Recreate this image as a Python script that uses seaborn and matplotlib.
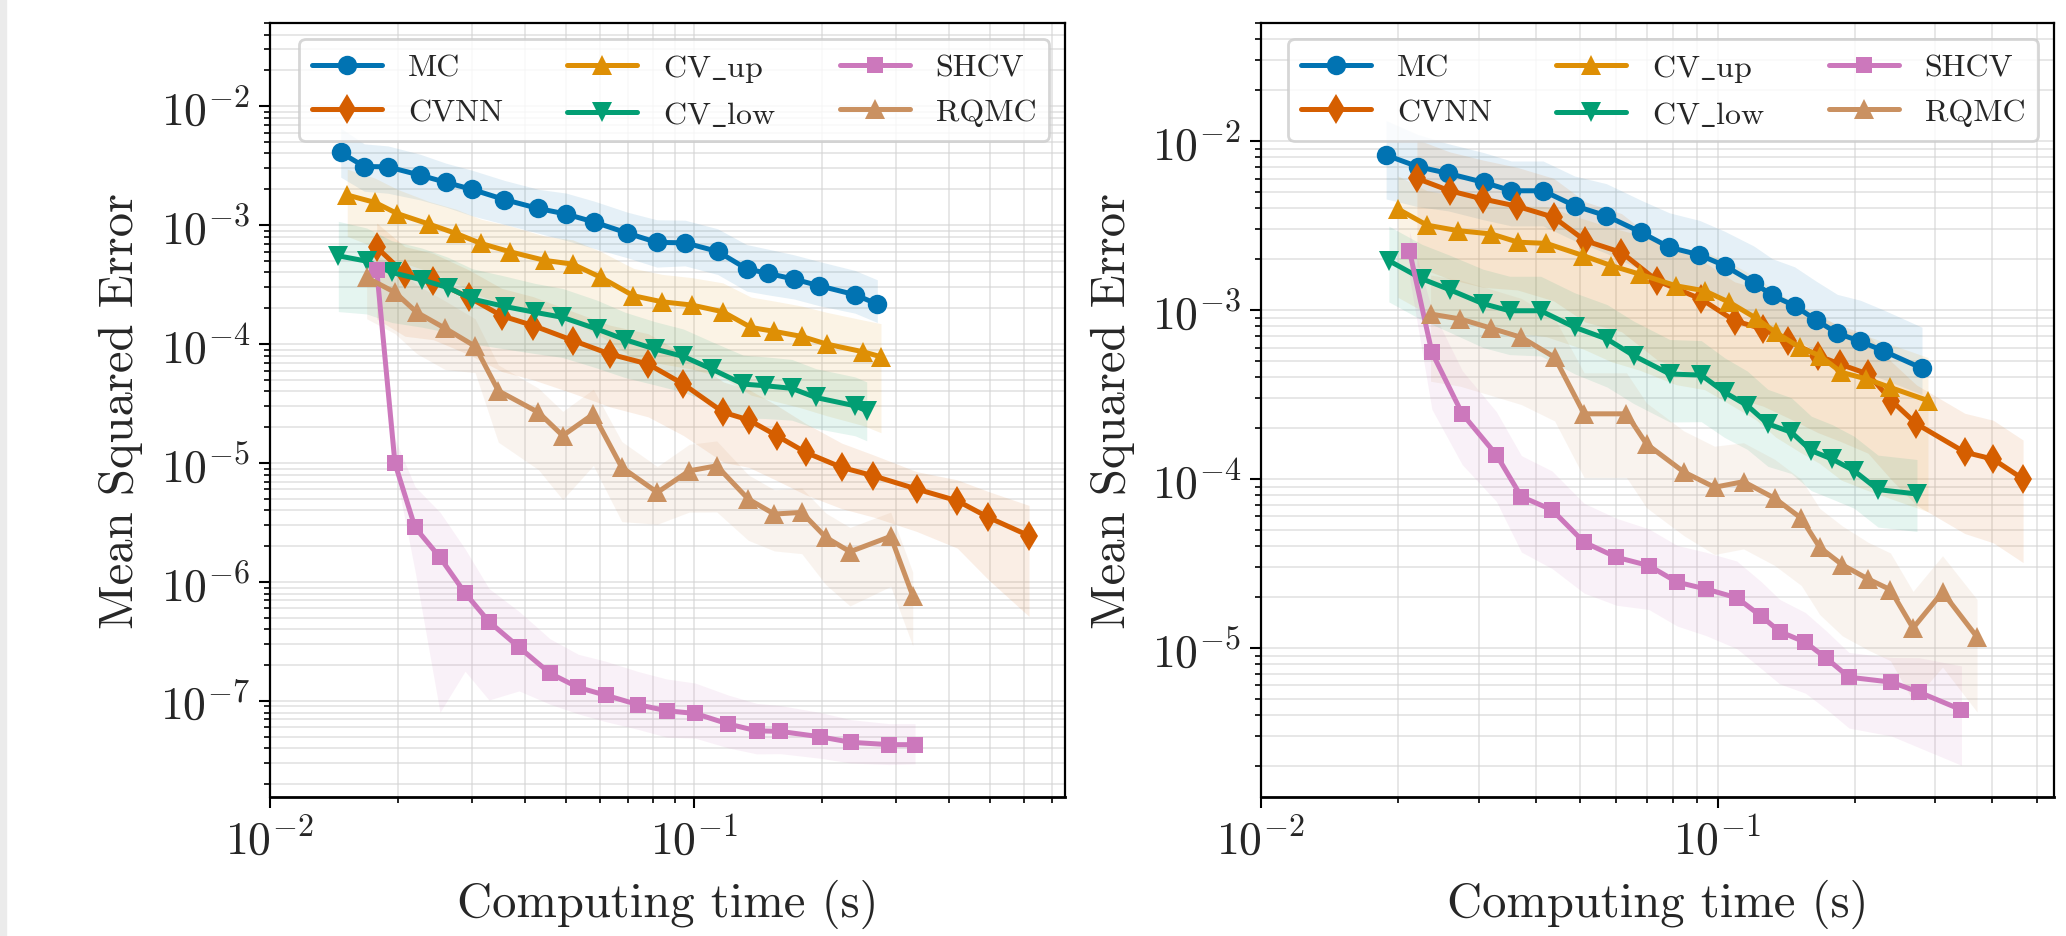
import numpy as np
import matplotlib
matplotlib.use("Agg")
import matplotlib.pyplot as plt
import seaborn as sns
from matplotlib.patches import Rectangle

# ---------------- left panel (a) ----------------
t_mc_a = [0.01468, 0.01668, 0.01896, 0.02259, 0.02597, 0.02990, 0.03570, 0.04294, 0.04989, 0.05820,
          0.06963, 0.08166, 0.09524, 0.1137, 0.1331, 0.1494, 0.1721, 0.1975, 0.2397, 0.2706]
mse_mc_a = [4.08e-3, 3.11e-3, 3.09e-3, 2.63e-3, 2.29e-3, 2.00e-3, 1.64e-3, 1.38e-3, 1.24e-3, 1.06e-3,
            8.57e-4, 7.16e-4, 7.10e-4, 6.01e-4, 4.29e-4, 3.93e-4, 3.52e-4, 3.09e-4, 2.60e-4, 2.17e-4]
hi_mc_a = [1.6, 1.55, 1.5, 1.5, 1.45, 1.45, 1.45, 1.45, 1.5, 1.5, 1.5, 1.55, 1.55, 1.55, 1.6, 1.6, 1.6, 1.6, 1.6, 1.6]
lo_mc_a = [0.62, 0.62, 0.6, 0.62, 0.62, 0.6, 0.62, 0.62, 0.6, 0.6, 0.62, 0.62, 0.64, 0.64, 0.65, 0.66, 0.68, 0.68, 0.7, 0.7]

t_cvnn_a = [0.01785, 0.02081, 0.02428, 0.02946, 0.03519, 0.04178, 0.05192, 0.06337, 0.07800, 0.09436,
            0.1173, 0.1348, 0.1567, 0.1834, 0.2230, 0.2648, 0.3351, 0.4178, 0.4943, 0.6167]
mse_cvnn_a = [6.50e-4, 3.88e-4, 3.40e-4, 2.47e-4, 1.73e-4, 1.43e-4, 1.07e-4, 8.24e-5, 6.79e-5, 4.61e-5,
              2.67e-5, 2.30e-5, 1.70e-5, 1.23e-5, 9.20e-6, 7.82e-6, 6.05e-6, 4.82e-6, 3.50e-6, 2.45e-6]
hi_cvnn_a = [1.6, 1.7, 1.7, 1.7, 1.7, 1.75, 1.75, 1.75, 1.8, 1.8, 1.8, 1.8, 1.8, 1.75, 1.6, 1.5, 1.4, 1.5, 1.65, 1.8]
lo_cvnn_a = [0.25, 0.3, 0.32, 0.33, 0.34, 0.35, 0.36, 0.36, 0.36, 0.37, 0.38, 0.4, 0.42, 0.44, 0.45, 0.45, 0.44, 0.4, 0.3, 0.21]

t_cvup_a = [0.01521, 0.01769, 0.01996, 0.02371, 0.02746, 0.03141, 0.03681, 0.04452, 0.05175, 0.06036,
            0.07194, 0.08392, 0.09876, 0.1169, 0.1363, 0.1544, 0.1795, 0.2056, 0.2508, 0.2761]
mse_cvup_a = [1.79e-3, 1.55e-3, 1.25e-3, 1.02e-3, 8.51e-4, 7.02e-4, 5.97e-4, 5.05e-4, 4.70e-4, 3.63e-4,
              2.55e-4, 2.27e-4, 2.13e-4, 1.87e-4, 1.38e-4, 1.28e-4, 1.16e-4, 1.00e-4, 8.61e-5, 7.82e-5]
hi_cvup_a = [1.65, 1.6, 1.6, 1.55, 1.6, 1.6, 1.65, 1.6, 1.6, 1.65, 1.7, 1.7, 1.7, 1.75, 1.8, 1.8, 1.8, 1.85, 1.85, 1.9]
lo_cvup_a = [0.45, 0.42, 0.4, 0.4, 0.38, 0.36, 0.35, 0.34, 0.33, 0.32, 0.3, 0.3, 0.29, 0.28, 0.27, 0.26, 0.25, 0.25, 0.24, 0.23]

t_cvlow_a = [0.01449, 0.01690, 0.01936, 0.02280, 0.02624, 0.02999, 0.03582, 0.04217, 0.04892, 0.05896,
             0.06877, 0.08091, 0.09436, 0.1101, 0.1307, 0.1471, 0.1700, 0.1936, 0.2397, 0.2555]
mse_cvlow_a = [5.52e-4, 4.98e-4, 4.00e-4, 3.47e-4, 2.99e-4, 2.39e-4, 2.07e-4, 1.85e-4, 1.68e-4, 1.34e-4,
               1.09e-4, 9.08e-5, 7.88e-5, 6.17e-5, 4.61e-5, 4.47e-5, 4.25e-5, 3.56e-5, 3.03e-5, 2.75e-5]
hi_cvlow_a = [1.95, 1.9, 1.85, 1.85, 1.8, 1.8, 1.8, 1.75, 1.75, 1.75, 1.7, 1.7, 1.7, 1.7, 1.75, 1.75, 1.75, 1.75, 1.75, 1.75]
lo_cvlow_a = [0.34, 0.36, 0.38, 0.4, 0.42, 0.42, 0.44, 0.45, 0.46, 0.47, 0.48, 0.5, 0.5, 0.52, 0.52, 0.53, 0.54, 0.55, 0.56, 0.56]

t_shcv_a = [0.01785, 0.01971, 0.02198, 0.02517, 0.02884, 0.03285, 0.03867, 0.04575, 0.05335, 0.06188,
            0.07390, 0.08622, 0.1006, 0.1205, 0.1406, 0.1595, 0.1983, 0.2343, 0.2888, 0.3321]
mse_shcv_a = [4.21e-4, 9.94e-6, 2.88e-6, 1.61e-6, 8.09e-7, 4.64e-7, 2.83e-7, 1.71e-7, 1.30e-7, 1.12e-7,
              9.31e-8, 8.28e-8, 7.87e-8, 6.41e-8, 5.62e-8, 5.56e-8, 5.01e-8, 4.50e-8, 4.30e-8, 4.30e-8]
hi_shcv_a = [1.15, 1.6, 2.2, 2.4, 2.35, 1.9, 2.0, 1.95, 1.9, 1.93, 1.9, 1.85, 1.8, 1.75, 1.7, 1.65, 1.6, 1.55, 1.5, 1.5]
lo_shcv_a = [0.85, 0.9, 0.43, 0.05, 0.22, 0.22, 0.43, 0.55, 0.6, 0.6, 0.62, 0.6, 0.62, 0.63, 0.64, 0.65, 0.66, 0.67, 0.68, 0.69]

t_rqmc_a = [0.01690, 0.01971, 0.02218, 0.02586, 0.03045, 0.03455, 0.04294, 0.04902, 0.05788, 0.06755,
            0.08193, 0.09748, 0.1131, 0.1343, 0.1546, 0.1795, 0.2048, 0.2333, 0.2910, 0.3280]
mse_rqmc_a = [3.63e-4, 2.72e-4, 1.85e-4, 1.36e-4, 9.60e-5, 4.05e-5, 2.67e-5, 1.70e-5, 2.58e-5, 9.20e-6,
              5.67e-6, 8.61e-6, 9.48e-6, 4.98e-6, 3.73e-6, 3.85e-6, 2.37e-6, 1.80e-6, 2.42e-6, 7.67e-7]
hi_rqmc_a = [1.7, 1.7, 1.7, 1.7, 1.7, 1.65, 1.6, 1.6, 1.62, 1.65, 1.65, 1.67, 1.62, 1.6, 1.6, 1.6, 1.6, 1.6, 1.6, 1.58]
lo_rqmc_a = [0.45, 0.45, 0.45, 0.45, 0.6, 0.37, 0.33, 0.29, 0.37, 0.35, 0.54, 0.45, 0.41, 0.45, 0.49, 0.45, 0.4, 0.35, 0.38, 0.38]

# ---------------- right panel (b) ----------------
t_mc_b = [0.01879, 0.02206, 0.02567, 0.03073, 0.03533, 0.04148, 0.04865, 0.05709, 0.06803, 0.07846,
          0.09130, 0.1036, 0.1201, 0.1318, 0.1475, 0.1640, 0.1830, 0.2055, 0.2304, 0.2805]
mse_mc_b = [8.26e-3, 7.05e-3, 6.44e-3, 5.70e-3, 5.08e-3, 5.08e-3, 4.14e-3, 3.61e-3, 2.88e-3, 2.35e-3,
            2.12e-3, 1.83e-3, 1.45e-3, 1.22e-3, 1.06e-3, 8.76e-4, 7.28e-4, 6.53e-4, 5.74e-4, 4.52e-4]
hi_mc_b = [1.6, 1.55, 1.5, 1.5, 1.5, 1.5, 1.5, 1.55, 1.55, 1.6, 1.6, 1.6, 1.65, 1.65, 1.7, 1.7, 1.7, 1.75, 1.75, 1.75]
lo_mc_b = [0.55, 0.58, 0.6, 0.6, 0.62, 0.62, 0.62, 0.6, 0.6, 0.6, 0.62, 0.62, 0.62, 0.64, 0.64, 0.65, 0.66, 0.66, 0.68, 0.7]

t_cvnn_b = [0.02195, 0.02588, 0.03064, 0.03642, 0.04375, 0.05135, 0.06160, 0.07376, 0.09211, 0.1090,
            0.1257, 0.1426, 0.1660, 0.1851, 0.2136, 0.2404, 0.2727, 0.3481, 0.4016, 0.4671]
mse_cvnn_b = [6.01e-3, 5.08e-3, 4.54e-3, 4.11e-3, 3.54e-3, 2.57e-3, 2.19e-3, 1.49e-3, 1.16e-3, 8.64e-4,
              7.72e-4, 6.58e-4, 5.37e-4, 4.79e-4, 4.18e-4, 2.91e-4, 2.12e-4, 1.44e-4, 1.31e-4, 1.00e-4]
hi_cvnn_b = [1.7, 1.7, 1.7, 1.7, 1.7, 1.7, 1.7, 1.7, 1.7, 1.7, 1.7, 1.7, 1.7, 1.7, 1.7, 1.7, 1.7, 1.7, 1.7, 1.7]
lo_cvnn_b = [0.3, 0.3, 0.3, 0.32, 0.32, 0.33, 0.34, 0.34, 0.34, 0.35, 0.35, 0.35, 0.35, 0.35, 0.34, 0.34, 0.33, 0.33, 0.32, 0.32]

t_cvup_b = [0.01995, 0.02309, 0.02700, 0.03194, 0.03656, 0.04217, 0.05076, 0.05855, 0.06755, 0.08117,
            0.09365, 0.1062, 0.1216, 0.1340, 0.1513, 0.1674, 0.1867, 0.2119, 0.2383, 0.2891]
mse_cvup_b = [3.96e-3, 3.18e-3, 2.95e-3, 2.82e-3, 2.52e-3, 2.48e-3, 2.10e-3, 1.83e-3, 1.63e-3, 1.39e-3,
              1.30e-3, 1.11e-3, 8.93e-4, 7.38e-4, 6.02e-4, 5.37e-4, 4.28e-4, 3.91e-4, 3.49e-4, 2.91e-4]
hi_cvup_b = [1.57, 1.6, 1.6, 1.62, 1.65, 1.65, 1.65, 1.68, 1.7, 1.7, 1.7, 1.72, 1.75, 1.75, 1.75, 1.78, 1.8, 1.8, 1.8, 1.8]
lo_cvup_b = [0.3, 0.3, 0.3, 0.29, 0.29, 0.28, 0.28, 0.27, 0.27, 0.26, 0.26, 0.25, 0.25, 0.24, 0.24, 0.23, 0.23, 0.22, 0.22, 0.22]

t_cvlow_b = [0.01905, 0.02251, 0.02588, 0.03064, 0.03504, 0.04098, 0.04865, 0.05728, 0.06553, 0.07859,
             0.09211, 0.1036, 0.1162, 0.1289, 0.1451, 0.1605, 0.1784, 0.1990, 0.2247, 0.2735]
mse_cvlow_b = [1.96e-3, 1.53e-3, 1.32e-3, 1.09e-3, 9.90e-4, 9.90e-4, 7.90e-4, 6.73e-4, 5.37e-4, 4.18e-4,
               4.12e-4, 3.26e-4, 2.72e-4, 2.12e-4, 1.89e-4, 1.47e-4, 1.31e-4, 1.12e-4, 8.65e-5, 8.15e-5]
hi_cvlow_b = [1.6, 1.6, 1.6, 1.6, 1.6, 1.6, 1.6, 1.6, 1.6, 1.6, 1.6, 1.6, 1.6, 1.6, 1.6, 1.6, 1.6, 1.6, 1.6, 1.6]
lo_cvlow_b = [0.57, 0.57, 0.56, 0.55, 0.55, 0.54, 0.53, 0.52, 0.52, 0.52, 0.53, 0.54, 0.55, 0.56, 0.57, 0.58, 0.58, 0.6, 0.6, 0.6]

t_shcv_b = [0.02114, 0.02367, 0.02759, 0.03277, 0.03717, 0.04339, 0.05101, 0.06006, 0.07069, 0.08157,
            0.09445, 0.1102, 0.1247, 0.1368, 0.1557, 0.1731, 0.1941, 0.2404, 0.2764, 0.3423]
mse_shcv_b = [2.24e-3, 5.62e-4, 2.43e-4, 1.39e-4, 7.86e-5, 6.56e-5, 4.22e-5, 3.44e-5, 3.07e-5, 2.45e-5,
              2.23e-5, 1.98e-5, 1.54e-5, 1.25e-5, 1.08e-5, 8.69e-6, 6.71e-6, 6.27e-6, 5.47e-6, 4.30e-6]
hi_shcv_b = [1.3, 1.8, 1.8, 1.8, 1.75, 1.7, 1.7, 1.7, 1.65, 1.65, 1.65, 1.65, 1.6, 1.55, 1.5, 1.45, 1.4, 1.4, 1.6, 1.82]
lo_shcv_b = [0.7, 0.46, 0.5, 0.53, 0.47, 0.45, 0.5, 0.52, 0.55, 0.55, 0.53, 0.5, 0.49, 0.49, 0.5, 0.5, 0.5, 0.48, 0.47, 0.47]

t_rqmc_b = [0.02351, 0.02731, 0.03194, 0.03717, 0.04396, 0.05101, 0.06316, 0.06989, 0.08436, 0.09849,
            0.1140, 0.1334, 0.1526, 0.1674, 0.1877, 0.2136, 0.2392, 0.2681, 0.3111, 0.3703]
mse_rqmc_b = [9.47e-4, 8.85e-4, 7.80e-4, 6.89e-4, 5.25e-4, 2.43e-4, 2.43e-4, 1.61e-4, 1.10e-4, 8.93e-5,
              9.64e-5, 7.69e-5, 5.85e-5, 3.94e-5, 3.10e-5, 2.56e-5, 2.21e-5, 1.31e-5, 2.14e-5, 1.16e-5]
hi_rqmc_b = [1.7, 1.7, 1.7, 1.7, 1.7, 1.75, 1.75, 1.75, 1.75, 1.75, 1.7, 1.7, 1.7, 1.7, 1.7, 1.65, 1.65, 1.65, 1.64, 1.67]
lo_rqmc_b = [0.4, 0.4, 0.4, 0.4, 0.42, 0.42, 0.42, 0.42, 0.42, 0.4, 0.4, 0.4, 0.4, 0.4, 0.38, 0.38, 0.38, 0.37, 0.36, 0.36]

names = ["MC", "CVNN", "CV_up", "CV_low", "SHCV", "RQMC"]
# cmr10 has no underscore glyph, so the legend text uses mathtext for it
legend_text = {"MC": "MC", "CVNN": "CVNN", "CV_up": r"CV$\_$up", "CV_low": r"CV$\_$low",
               "SHCV": "SHCV", "RQMC": "RQMC"}

cb = sns.color_palette("colorblind")
colors = {"MC": cb[0], "CVNN": cb[3], "CV_up": cb[1], "CV_low": cb[2], "SHCV": cb[4], "RQMC": cb[5]}
markers = {"MC": "o", "CVNN": "d", "CV_up": "^", "CV_low": "v", "SHCV": "s", "RQMC": "^"}
msizes = {"MC": 14, "CVNN": 15, "CV_up": 14, "CV_low": 14, "SHCV": 12, "RQMC": 14}

panel_a = [
    ("MC", t_mc_a, mse_mc_a, hi_mc_a, lo_mc_a),
    ("CVNN", t_cvnn_a, mse_cvnn_a, hi_cvnn_a, lo_cvnn_a),
    ("CV_up", t_cvup_a, mse_cvup_a, hi_cvup_a, lo_cvup_a),
    ("CV_low", t_cvlow_a, mse_cvlow_a, hi_cvlow_a, lo_cvlow_a),
    ("SHCV", t_shcv_a, mse_shcv_a, hi_shcv_a, lo_shcv_a),
    ("RQMC", t_rqmc_a, mse_rqmc_a, hi_rqmc_a, lo_rqmc_a),
]
panel_b = [
    ("MC", t_mc_b, mse_mc_b, hi_mc_b, lo_mc_b),
    ("CVNN", t_cvnn_b, mse_cvnn_b, hi_cvnn_b, lo_cvnn_b),
    ("CV_up", t_cvup_b, mse_cvup_b, hi_cvup_b, lo_cvup_b),
    ("CV_low", t_cvlow_b, mse_cvlow_b, hi_cvlow_b, lo_cvlow_b),
    ("SHCV", t_shcv_b, mse_shcv_b, hi_shcv_b, lo_shcv_b),
    ("RQMC", t_rqmc_b, mse_rqmc_b, hi_rqmc_b, lo_rqmc_b),
]

sns.set_style("white")
plt.rcParams["font.family"] = ["cmr10", "DejaVu Serif"]
plt.rcParams["mathtext.fontset"] = "cm"
plt.rcParams["axes.formatter.use_mathtext"] = True
plt.rcParams["axes.unicode_minus"] = False


def draw_panel(ax, series, xmax, ylim):
    for name, t, m, hi, lo in series:
        m = np.array(m)
        ax.fill_between(t, m * np.array(lo), m * np.array(hi), color=colors[name],
                        alpha=0.1, linewidth=0, zorder=1)
    for name, t, m, hi, lo in series:
        sns.lineplot(x=t, y=m, ax=ax, color=colors[name], marker=markers[name],
                     markersize=msizes[name], linewidth=3.6, markeredgecolor=colors[name],
                     markeredgewidth=0, label=legend_text[name], zorder=3)
    ax.set_xscale("log")
    ax.set_yscale("log")
    ax.set_xlim(0.01, xmax)
    ax.set_ylim(*ylim)
    ax.grid(True, which="both", color="#d4d4d4", alpha=0.55, linewidth=1.4, zorder=0)
    ax.set_axisbelow(True)
    for s in ax.spines.values():
        s.set_visible(True)
        s.set_color("black")
        s.set_linewidth(1.6)
    ax.spines["bottom"].set_linewidth(2.0)
    ax.tick_params(which="major", direction="out", length=8, width=1.5, labelsize=33,
                   left=True, bottom=True, color="black", pad=6)
    ax.tick_params(which="minor", direction="out", length=4.5, width=1.2, left=True,
                   bottom=True, color="black")
    ax.set_xlabel("Computing time (s)", fontsize=35, labelpad=12)
    ax.set_ylabel("Mean Squared Error", fontsize=35, labelpad=12)
    leg = ax.legend(loc="upper right", ncol=3, fontsize=23, frameon=True, fancybox=True,
                    framealpha=0.8, edgecolor="#cccccc", borderaxespad=0.5,
                    handlelength=2.2, columnspacing=2.0, labelspacing=0.5)
    leg.get_frame().set_linewidth(2.0)


fig = plt.figure(figsize=(20.66, 9.37), dpi=100)
ax1 = fig.add_axes([0.1307, 0.1483, 0.3848, 0.8261])
ax2 = fig.add_axes([0.6104, 0.1483, 0.3838, 0.8261])
draw_panel(ax1, panel_a, 0.75, (1.56e-8, 0.05))
draw_panel(ax2, panel_b, 0.546, (1.31e-6, 0.05))

fig.patches.append(Rectangle((0, 0), 6 / 2066, 1, transform=fig.transFigure,
                             color="#ebebeb", zorder=-1))

fig.savefig("out.png", dpi=100)
